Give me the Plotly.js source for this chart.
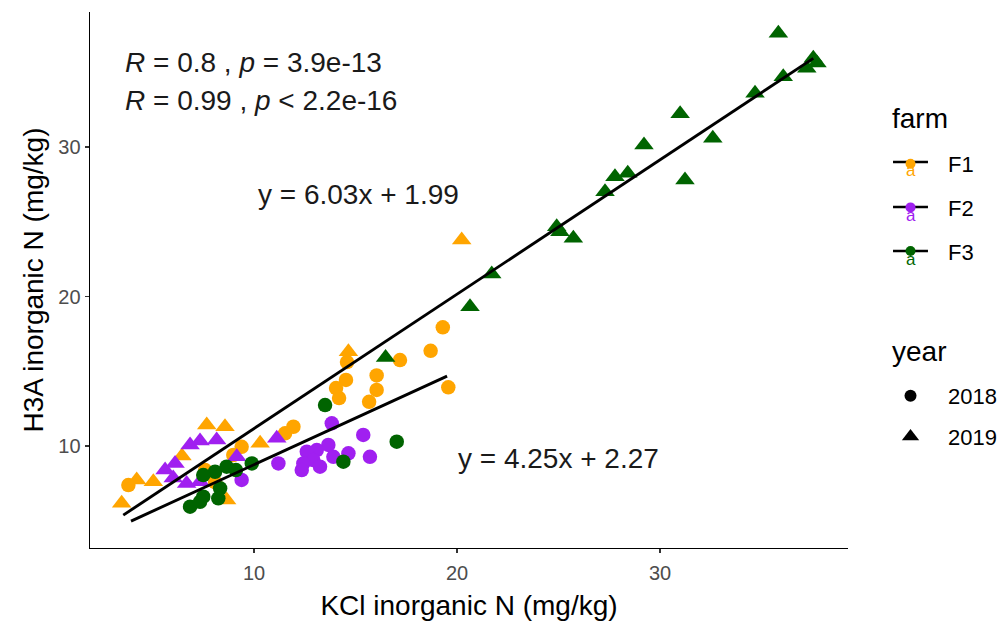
<!DOCTYPE html>
<html>
<head>
<meta charset="utf-8">
<script src="https://cdn.plot.ly/plotly-3.0.1.min.js"></script>
<style>
  html, body { margin: 0; padding: 0; background: #ffffff; }
  #chart { width: 1006px; height: 621px; }
</style>
</head>
<body>
<div id="chart"></div>
<script>
// KCl vs H3A inorganic N, by farm (colour) and year (shape)
const farms = ['F1', 'F2', 'F3'];
const years = ['2018', '2019'];
const farmColors = ['#FFA500', '#A020F0', '#006400'];

// F1
const f1_2018_kcl = [19.30, 18.70, 17.19, 19.57, 16.04, 16.04, 15.67, 14.58, 14.53, 14.04, 14.19, 11.94, 11.53, 9.39, 8.98, 7.59, 3.81, 8.08];
const f1_2018_h3a = [17.94, 16.37, 15.75, 13.93, 14.72, 13.75, 12.96, 15.62, 14.42, 13.88, 13.21, 11.29, 10.85, 9.95, 9.40, 8.39, 7.39, 7.59];
const f1_2019_kcl = [3.48, 4.22, 5.04, 7.67, 8.57, 10.30, 8.65, 14.65, 20.23, 6.45];
const f1_2019_h3a = [6.17, 7.73, 7.61, 11.40, 11.29, 10.18, 6.39, 16.31, 23.78, 9.33];

// F2
const f2_2018_kcl = [13.83, 15.38, 15.71, 14.65, 13.66, 13.09, 12.60, 12.92, 13.25, 12.43, 12.35, 11.20, 13.91, 9.39];
const f2_2018_h3a = [11.52, 10.74, 9.28, 9.51, 10.07, 9.73, 9.62, 9.06, 8.62, 8.84, 8.39, 8.84, 9.28, 7.73];
const f2_2019_kcl = [6.85, 7.34, 8.16, 11.12, 9.15, 6.11, 6.02, 7.34, 6.68, 5.62];
const f2_2019_h3a = [10.07, 10.33, 10.40, 10.52, 9.28, 8.84, 7.86, 7.61, 7.50, 8.39];

// F3
const f3_2018_kcl = [13.50, 17.03, 14.40, 9.89, 8.65, 8.08, 8.33, 7.50, 8.24, 7.50, 6.85, 7.34, 9.11];
const f3_2018_h3a = [12.74, 10.29, 8.95, 8.84, 8.62, 8.28, 7.17, 6.61, 6.50, 8.06, 5.94, 6.27, 8.39];
const f3_2019_kcl = [35.83, 37.55, 37.23, 37.73, 36.07, 34.68, 30.99, 32.60, 29.21, 31.23, 28.41, 27.78, 27.29, 24.91, 25.07, 25.73, 21.71, 20.64, 16.48];
const f3_2019_h3a = [37.61, 35.93, 35.26, 35.62, 34.70, 33.59, 32.23, 30.58, 30.13, 27.79, 28.24, 28.01, 27.01, 24.67, 24.33, 23.89, 21.51, 19.32, 15.92];

// Linear fits, one per year (end points over each year's KCl range)
const fit2018_kcl = [3.94, 19.51];
const fit2018_h3a = [4.98, 14.68];
const fit2019_kcl = [3.56, 37.55];
const fit2019_h3a = [5.38, 35.93];

// Text labels
const corrLabels = ['<i>R</i> = 0.8 , <i>p</i> = 3.9e-13', '<i>R</i> = 0.99 , <i>p</i> &lt; 2.2e-16'];
const eqLabels = ['y = 6.03x + 1.99', 'y = 4.25x + 2.27'];
const xTicks = [10, 20, 30];
const yTicks = [10, 20, 30];

const FONT = 'Liberation Sans, Arial, sans-serif';
const TEXT_SIZE = 28;

const groups = [
  [0, 0, f1_2018_kcl, f1_2018_h3a],
  [0, 1, f1_2019_kcl, f1_2019_h3a],
  [1, 0, f2_2018_kcl, f2_2018_h3a],
  [1, 1, f2_2019_kcl, f2_2019_h3a],
  [2, 0, f3_2018_kcl, f3_2018_h3a],
  [2, 1, f3_2019_kcl, f3_2019_h3a]
];

const traces = [];
groups.forEach(([fi, yi, xs, ys]) => {
  traces.push({
    x: xs, y: ys, type: 'scatter', mode: 'markers',
    name: farms[fi] + ' ' + years[yi],
    showlegend: false,
    hoverinfo: 'x+y',
    marker: {
      color: farmColors[fi],
      symbol: yi === 0 ? 'circle' : 'triangle-up',
      size: yi === 0 ? 14.5 : 17,
      line: { width: 0 }
    }
  });
});

[[fit2018_kcl, fit2018_h3a], [fit2019_kcl, fit2019_h3a]].forEach(([xs, ys], i) => {
  traces.push({
    x: xs, y: ys, type: 'scatter', mode: 'lines',
    name: 'fit ' + years[i], showlegend: false, hoverinfo: 'skip',
    line: { color: '#000000', width: 2.9 }
  });
});

// legend entries: farm (the black key line is drawn as a shape underneath)
farms.forEach((f, i) => {
  traces.push({
    x: [null], y: [null], type: 'scatter', mode: 'markers',
    name: f, legend: 'legend', legendgroup: 'farm' + f,
    marker: { color: farmColors[i], symbol: 'circle', size: 10 }
  });
});
// legend entries: year
years.forEach((yr, i) => {
  traces.push({
    x: [null], y: [null], type: 'scatter', mode: 'markers',
    name: yr, legend: 'legend2', legendgroup: 'year' + yr,
    marker: { color: '#000000', symbol: i === 0 ? 'circle' : 'triangle-up', size: i === 0 ? 12 : 15 }
  });
});

const annotations = [];
corrLabels.forEach((t, i) => {
  annotations.push({
    text: t, xref: 'paper', yref: 'paper',
    x: 0.0435, y: i === 0 ? 0.9067 : 0.834,
    xanchor: 'left', yanchor: 'middle', showarrow: false,
    font: { family: FONT, size: TEXT_SIZE, color: '#1A1A1A' }
  });
});
annotations.push({
  text: eqLabels[0], xref: 'paper', yref: 'paper', x: 0.3536, y: 0.6586,
  xanchor: 'center', yanchor: 'middle', showarrow: false,
  font: { family: FONT, size: TEXT_SIZE, color: '#1A1A1A' }
});
annotations.push({
  text: eqLabels[1], xref: 'paper', yref: 'paper', x: 0.6187, y: 0.1679,
  xanchor: 'center', yanchor: 'middle', showarrow: false,
  font: { family: FONT, size: TEXT_SIZE, color: '#1A1A1A' }
});
// legend titles
annotations.push({
  text: 'farm', xref: 'paper', yref: 'paper', x: 1.0554, y: 0.8022,
  xanchor: 'left', yanchor: 'middle', showarrow: false,
  font: { family: FONT, size: TEXT_SIZE, color: '#000000' }
});
annotations.push({
  text: 'year', xref: 'paper', yref: 'paper', x: 1.0554, y: 0.3657,
  xanchor: 'left', yanchor: 'middle', showarrow: false,
  font: { family: FONT, size: TEXT_SIZE, color: '#000000' }
});

// farm key rows (paper y of each row) and their text-key glyphs
const farmKeyY = [0.7201, 0.6362, 0.5541];
const shapes = [];
farms.forEach((f, i) => {
  shapes.push({
    type: 'line', xref: 'paper', yref: 'paper',
    x0: 1.0594, x1: 1.1055, y0: farmKeyY[i], y1: farmKeyY[i],
    line: { color: '#000000', width: 2.6 }
  });
  annotations.push({
    text: 'a', xref: 'paper', yref: 'paper', x: 1.0825, y: farmKeyY[i] - 0.016,
    xanchor: 'center', yanchor: 'middle', showarrow: false,
    font: { family: FONT, size: 17, color: farmColors[i] }
  });
});

const layout = {
  width: 1006, height: 621,
  margin: { l: 90, r: 158, t: 12, b: 73, autoexpand: false },
  paper_bgcolor: '#ffffff', plot_bgcolor: '#ffffff',
  font: { family: FONT, color: '#000000' },
  xaxis: {
    range: [1.92, 39.26], tickvals: xTicks, ticktext: xTicks.map(String),
    showgrid: false, zeroline: false, showline: true,
    linecolor: '#000000', linewidth: 1.4,
    ticks: 'outside', ticklen: 4, tickwidth: 1.1, tickcolor: '#333333',
    ticklabelstandoff: 3,
    tickfont: { family: FONT, size: 20, color: '#4D4D4D' },
    title: { text: 'KCl inorganic N (mg/kg)', font: { family: FONT, size: TEXT_SIZE, color: '#000000' }, standoff: 12 }
  },
  yaxis: {
    range: [3.18, 39.03], tickvals: yTicks, ticktext: yTicks.map(String),
    showgrid: false, zeroline: false, showline: true,
    linecolor: '#000000', linewidth: 1.4,
    ticks: 'outside', ticklen: 4, tickwidth: 1.1, tickcolor: '#333333',
    tickfont: { family: FONT, size: 20, color: '#4D4D4D' },
    title: { text: 'H3A inorganic N (mg/kg)', font: { family: FONT, size: TEXT_SIZE, color: '#000000' }, standoff: 6 }
  },
  legend: {
    x: 1.033, y: 0.7556, xanchor: 'left', yanchor: 'top',
    traceorder: 'grouped', tracegroupgap: 12, itemwidth: 65,
    bgcolor: 'rgba(0,0,0,0)', borderwidth: 0,
    font: { family: FONT, size: 22, color: '#000000' }
  },
  legend2: {
    x: 1.033, y: 0.3228, xanchor: 'left', yanchor: 'top',
    traceorder: 'grouped', tracegroupgap: 9, itemwidth: 65,
    bgcolor: 'rgba(0,0,0,0)', borderwidth: 0,
    font: { family: FONT, size: 22, color: '#000000' }
  },
  shapes: shapes,
  annotations: annotations,
  showlegend: true
};

Plotly.newPlot('chart', traces, layout, { displayModeBar: false, staticPlot: true });
</script>
</body>
</html>
